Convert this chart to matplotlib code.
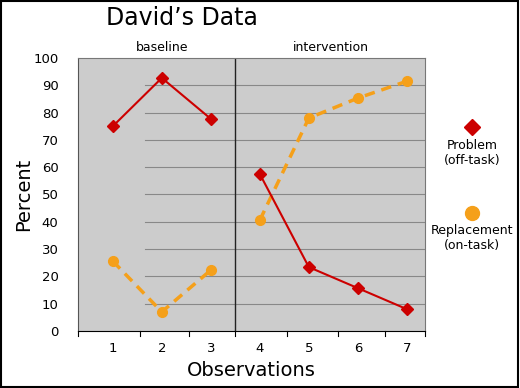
import matplotlib
matplotlib.use("Agg")
import matplotlib.pyplot as plt
from matplotlib.patches import Rectangle

obs = [1, 2, 3, 4, 5, 6, 7]
problem_base = [75, 92.7, 77.7]
problem_int = [57.5, 23.4, 15.7, 8]
replace_base = [25.6, 7, 22.3]
replace_int = [40.6, 78, 85.3, 91.5]
yticks = [0, 10, 20, 30, 40, 50, 60, 70, 80, 90, 100]

red = "#cc0000"
orange = "#f5a01a"

fig = plt.figure(figsize=(5.2, 3.88), dpi=100)
ax = fig.add_axes([78/520, 57/388, 347/520, 273/388])
ax.set_facecolor("#cccccc")
ax.set_xlim(0.29, 7.37)
ax.set_ylim(0, 100)

# gridlines
for y in yticks[1:-1]:
    ax.plot([1.65, 3.5], [y, y], color="#888888", lw=0.8, zorder=1)
    ax.plot([3.5, 7.37], [y, y], color="#888888", lw=0.8, zorder=1)
ax.axvline(3.5, color="#222222", lw=1, zorder=2)

ax.plot(obs[:3], problem_base, color=red, lw=1.5, marker="D", ms=6, zorder=4)
ax.plot(obs[3:], problem_int, color=red, lw=1.5, marker="D", ms=6, zorder=4)
ax.plot(obs[:3], replace_base, color=orange, lw=2.5, ls=(0, (3, 2)), marker="o", ms=7, zorder=3)
ax.plot(obs[3:], replace_int, color=orange, lw=2.5, ls=(0, (3, 2)), marker="o", ms=7, zorder=3)

ax.set_yticks(yticks)
ax.set_yticklabels([str(v) for v in yticks], fontsize=9.5)
ax.tick_params(axis="y", length=0, pad=14)
ax.set_xticks(obs)
ax.set_xticklabels([str(v) for v in obs], fontsize=9.5)
ax.tick_params(axis="x", length=0, pad=8)
for xt in [0.29, 1.55, 2.55, 3.5, 4.55, 5.6, 6.55, 7.37]:
    ax.plot([xt, xt], [0, -2], color="black", lw=0.8, clip_on=False)

for s in ["top", "right"]:
    ax.spines[s].set_color("#777777")
ax.spines["left"].set_color("#555555")
ax.spines["bottom"].set_color("black")

ax.text(2.0, 101.5, "baseline", ha="center", va="bottom", fontsize=9)
ax.text(5.45, 101.5, "intervention", ha="center", va="bottom", fontsize=9)
ax.set_xlabel("Observations", fontsize=14, labelpad=4)
ax.set_ylabel("Percent", fontsize=14, labelpad=0)
ax.yaxis.set_label_coords(-0.13, 0.5)

fig.text(182/520, 1 - 18/388, "David\u2019s Data", ha="center", va="center", fontsize=17)

fig.add_artist(plt.Line2D([472/520], [1 - 127/388], marker="D", color=red, ms=8, transform=fig.transFigure))
fig.text(472/520, 1 - 153/388, "Problem\n(off-task)", ha="center", va="center", fontsize=9, linespacing=1.2)
fig.add_artist(plt.Line2D([472/520], [1 - 213/388], marker="o", color=orange, ms=10, transform=fig.transFigure))
fig.text(472/520, 1 - 238/388, "Replacement\n(on-task)", ha="center", va="center", fontsize=9, linespacing=1.2)

fig.add_artist(Rectangle((0.002, 0.003), 0.995, 0.994, transform=fig.transFigure, fill=False, ec="black", lw=1.5))

fig.savefig("out.png", dpi=100)
